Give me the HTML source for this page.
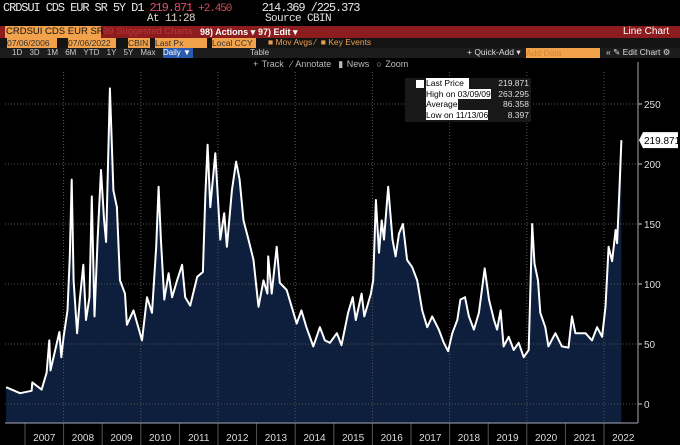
<!DOCTYPE html>
<html><head><meta charset="utf-8">
<style>
body{margin:0;background:#000;width:680px;height:445px;overflow:hidden;font-family:"Liberation Sans",sans-serif;}
.t{position:absolute;white-space:nowrap;}
#wrap{position:relative;width:680px;height:445px;}
</style></head>
<body>
<div id="wrap">
<div class="t" style="left:3px;top:1px;font:12px 'Liberation Mono',monospace;color:#e8e8e8;letter-spacing:-1.1px">CRDSUI CDS EUR SR 5Y D1 <span style="color:#e0506a">219.871</span> <span style="color:#d0505a;font-size:11px">+2.450</span>&nbsp;&nbsp;&nbsp;&nbsp; 214.369 /225.373</div>
<div class="t" style="left:147px;top:13px;font:11px 'Liberation Mono',monospace;color:#e0d8c8;letter-spacing:-0.6px">At 11:28</div>
<div class="t" style="left:265px;top:13px;font:11px 'Liberation Mono',monospace;color:#e0e0e0;letter-spacing:-0.6px">Source CBIN</div>

<div class="t" style="left:0;top:26px;width:680px;height:12px;background:#8c1c1e"></div>
<div class="t" style="left:5px;top:26px;height:12px;width:94px;background:#f2a24a;color:#111;font-size:9.5px;line-height:12px;padding:0 1px">CRDSUI CDS EUR SR</div>
<div class="t" style="left:103px;top:26px;color:#b8383a;font-size:9.5px;line-height:12px">99 Suggested Charts</div>
<div class="t" style="left:200px;top:26px;color:#fff;font-size:9px;line-height:12px;font-weight:bold">98) Actions ▾</div>
<div class="t" style="left:258px;top:26px;color:#fff;font-size:9px;line-height:12px;font-weight:bold">97) Edit ▾</div>
<div class="t" style="left:623px;top:26px;color:#fff;font-size:10px;line-height:12px">Line Chart</div>

<div class="t" style="left:0;top:38px;width:680px;height:10px;background:#141414"></div>
<div class="t" style="left:7px;top:38px;width:50px;height:10px;background:#f2a24a;color:#333;font-size:8.5px;line-height:10px">07/06/2006</div>
<div class="t" style="left:68px;top:38px;width:48px;height:10px;background:#f2a24a;color:#333;font-size:8.5px;line-height:10px">07/06/2022</div>
<div class="t" style="left:128px;top:38px;width:22px;height:10px;background:#f2a24a;color:#333;font-size:8.5px;line-height:10px">CBIN</div>
<div class="t" style="left:155px;top:38px;width:52px;height:10px;background:#f2a24a;color:#333;font-size:8.5px;line-height:10px">Last Px</div>
<div class="t" style="left:212px;top:38px;width:44px;height:10px;background:#f2a24a;color:#333;font-size:8.5px;line-height:10px">Local CCY</div>
<div class="t" style="left:268px;top:37px;color:#e8a050;font-size:8.5px">■ Mov Avgs ⁄ &nbsp;■ Key Events</div>

<div class="t" style="left:0;top:48px;width:680px;height:10px;background:#1c1c1c"></div>
<div class="t" style="left:12px;top:48px;color:#ccc;font-size:8px;word-spacing:5px">1D 3D 1M 6M YTD 1Y 5Y Max</div>
<div class="t" style="left:163px;top:48px;width:30px;height:10px;background:#2a5bb0;color:#fff;font-size:8px;line-height:10px">Daily ▼</div>
<div class="t" style="left:250px;top:48px;color:#ccc;font-size:8px">Table</div>
<div class="t" style="left:467px;top:47px;color:#ddd;font-size:8.5px">+ Quick-Add ▾</div>
<div class="t" style="left:526px;top:48px;width:74px;height:10px;background:#f2a24a;color:#d08838;font-size:8.5px;line-height:10px">Add Data</div>
<div class="t" style="left:606px;top:47px;color:#ddd;font-size:8.5px">« ✎ Edit Chart ⚙</div>
<div class="t" style="left:253px;top:59px;color:#bbb;font-size:9px;word-spacing:1px">+ Track &nbsp;⁄ Annotate &nbsp;▮ News &nbsp;○ Zoom</div>

<svg class="t" style="left:0;top:0" width="680" height="445" id="svg"></svg>

<div class="t" style="left:405px;top:78px;width:126px;height:44px;background:#181818"></div>
<div class="t" style="left:416px;top:80px;width:8px;height:8px;background:#fff"></div>
<div class="t" style="left:426px;top:78px;font-size:8.5px;line-height:10.5px;color:#000">
<div style="background:#fff;display:inline-block;width:43px">Last Price</div><br>
<div style="background:#fff;display:inline-block">High on 03/09/09</div><br>
<div style="background:#fff;display:inline-block">Average</div><br>
<div style="background:#fff;display:inline-block">Low on 11/13/06</div></div>
<div class="t" style="left:485px;top:78px;width:44px;text-align:right;font-size:8.5px;line-height:10.5px;color:#ddd">219.871<br>263.295<br>86.358<br>8.397</div>
</div>
<script>
const dates=[2006.51,2006.87,2007.17,2007.19,2007.43,2007.56,2007.63,2007.66,2007.89,2007.94,2008.0,2008.1,2008.16,2008.21,2008.26,2008.35,2008.42,2008.51,2008.58,2008.67,2008.73,2008.8,2008.88,2008.97,2009.05,2009.1,2009.2,2009.29,2009.38,2009.46,2009.59,2009.64,2009.81,2010.03,2010.16,2010.29,2010.4,2010.46,2010.52,2010.61,2010.72,2010.81,2010.94,2011.07,2011.15,2011.28,2011.46,2011.61,2011.67,2011.73,2011.8,2011.93,2012.06,2012.16,2012.23,2012.36,2012.47,2012.56,2012.66,2012.79,2012.92,2013.05,2013.18,2013.28,2013.3,2013.39,2013.52,2013.6,2013.78,2014.04,2014.16,2014.29,2014.47,2014.64,2014.77,2014.9,2015.08,2015.2,2015.37,2015.49,2015.57,2015.72,2015.79,2015.96,2016.02,2016.09,2016.17,2016.24,2016.3,2016.41,2016.52,2016.6,2016.69,2016.79,2016.9,2017.03,2017.16,2017.29,2017.42,2017.55,2017.72,2017.85,2017.96,2018.07,2018.2,2018.28,2018.4,2018.5,2018.63,2018.76,2018.91,2019.02,2019.15,2019.23,2019.32,2019.4,2019.53,2019.66,2019.79,2019.92,2020.05,2020.14,2020.2,2020.29,2020.35,2020.48,2020.56,2020.74,2020.91,2021.08,2021.17,2021.26,2021.52,2021.69,2021.82,2021.95,2022.04,2022.12,2022.21,2022.3,2022.34,2022.4,2022.45];
const values=[14,9,11,18,12,26,53,28,60,39,56,78,123,187,103,59,87,116,70,89,173,73,137,195,153,135,263,178,164,103,92,66,78,53,89,76,131,181,137,87,109,89,103,116,89,82,106,110,173,216,164,209,137,159,131,178,202,187,153,137,120,81,103,92,123,92,131,101,95,67,78,64,48,64,53,51,59,49,76,89,70,92,73,92,103,170,126,153,137,181,137,123,142,150,120,114,103,78,64,73,62,51,44,59,70,87,89,73,62,76,113,87,70,62,78,48,56,45,51,39,45,150,117,103,76,64,48,59,48,47,73,59,59,53,64,56,81,131,119,145,134,178,219.871];
const yTicks=[0,50,100,150,200,250];
const years=[2007,2008,2009,2010,2011,2012,2013,2014,2015,2016,2017,2018,2019,2020,2021,2022];
const lastValue=219.871;
const X=t=>25+(t-2007)*38.6, Y=v=>404-v*1.2;
const svg=document.getElementById('svg'),NS='http://www.w3.org/2000/svg';
function mk(tag,at,name){const e=document.createElementNS(NS,tag);for(const k in at)e.setAttribute(k,at[k]);


svg.appendChild(e);return e;}
let d='M'+X(dates[0])+' 423';dates.forEach((t,i)=>d+=' L'+X(t).toFixed(1)+' '+Y(values[i]).toFixed(1));d+=' L'+X(dates[dates.length-1]).toFixed(1)+' 423Z';
mk('path',{d:d,fill:'#0d1f3c'},'area-fill');
yTicks.forEach(v=>{mk('line',{x1:5,x2:638,y1:Y(v),y2:Y(v),stroke:'#555','stroke-dasharray':'1,2','stroke-width':1},'y-grid-'+v);
mk('line',{x1:638,x2:642,y1:Y(v),y2:Y(v),stroke:'#ccc'},'y-tick-'+v);
const tx=mk('text',{x:644,y:Y(v)+4,fill:'#ddd','font-size':10,'font-family':'Liberation Sans'},'y-label-'+v);tx.textContent=v;});
years.forEach((y,i)=>{if(y%2==0)mk('line',{x1:X(y),x2:X(y),y1:72,y2:423,stroke:'#555','stroke-dasharray':'1,2'},'x-grid-'+y);
mk('line',{x1:X(y),x2:X(y),y1:423,y2:445,stroke:'#555'},'x-tick-'+y);
const tx=mk('text',{x:X(y+0.5),y:441,fill:'#ddd','font-size':10,'text-anchor':'middle','font-family':'Liberation Sans'},'x-label-'+y);tx.textContent=y;});
let p='';dates.forEach((t,i)=>p+=(i?' L':'M')+X(t).toFixed(1)+' '+Y(values[i]).toFixed(1));
mk('path',{d:p,fill:'none',stroke:'#fff','stroke-width':2,'stroke-linejoin':'round'},'price-line');
mk('line',{x1:5,x2:638,y1:423,y2:423,stroke:'#aab'},'x-axis');
mk('line',{x1:638,x2:638,y1:62,y2:423,stroke:'#aaa'},'y-axis');
const ly=Y(lastValue);
mk('path',{d:`M639 ${ly} L643 ${ly-8} L678 ${ly-8} L678 ${ly+8} L643 ${ly+8}Z`,fill:'#fff'},'last-price-tag');
const lt=mk('text',{x:644,y:ly+4,fill:'#000','font-size':10,'font-family':'Liberation Sans'},'last-price-label');lt.textContent=lastValue;
</script>
</body></html>
